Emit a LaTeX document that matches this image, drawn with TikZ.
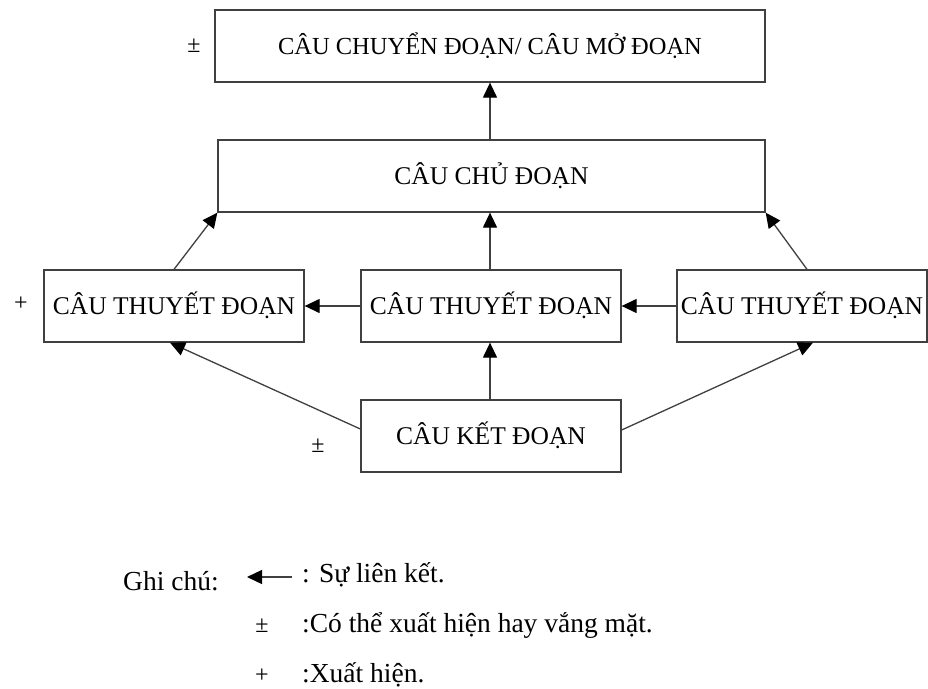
\documentclass[tikz,border=0pt]{standalone}
\usepackage{fontspec}
\setmainfont{Liberation Serif}
\usetikzlibrary{arrows.meta}
\begin{document}
\begin{tikzpicture}[x=1pt,y=-1pt,
  box/.style={draw=black!75, line width=1.3pt, minimum height=72pt, inner sep=0pt,
    text height=17pt, text depth=0pt, font=\fontsize{25.5}{25.5}\selectfont},
  link/.style={draw=black!75, line width=1.3pt, -{Triangle[length=15pt,width=14pt,color=black,fill=black]}},
  sym/.style={inner sep=0pt, font=\fontsize{24}{24}\selectfont},
  legtext/.style={anchor=base west, inner sep=0pt, font=\fontsize{27.5}{27.5}\selectfont}
]
\useasboundingbox (0,0) rectangle (928,688);
\fill[white] (0,0) rectangle (928,688);

% boxes
\node[box, minimum width=550pt, font=\fontsize{24.5}{24.5}\selectfont] (top) at (490,46) {CÂU CHUYỂN ĐOẠN/ CÂU MỞ ĐOẠN};
\node[box, minimum width=547pt] (chu) at (491.5,176) {CÂU CHỦ ĐOẠN};
\node[box, minimum width=260pt] (left) at (174,306) {CÂU THUYẾT ĐOẠN};
\node[box, minimum width=260pt] (mid) at (491,306) {CÂU THUYẾT ĐOẠN};
\node[box, minimum width=250pt] (right) at (802,306) {CÂU THUYẾT ĐOẠN};
\node[box, minimum width=260pt] (ket) at (491,436) {CÂU KẾT ĐOẠN};

% marks
\node[sym] (ptop) at (194,46) {±};
\node[sym] (pleft) at (21,304) {+};
\node[sym] (pket) at (318,446) {±};

% connectors
\draw[link] ([xshift=-1.5pt]chu.north) -- ([xshift=-1.5pt]chu.north |- top.south);
\draw[link] (left.north) -- (chu.south west);
\draw[link] ([xshift=5pt]right.north) -- (chu.south east);
\draw[link] ([xshift=-1pt]mid.north) -- ([xshift=-1pt]mid.north |- chu.south);
\draw[link] (mid.west) -- (left.east);
\draw[link] (right.west) -- (mid.east);
\draw[link] ([xshift=-1pt]ket.north) -- ([xshift=-1pt]mid.south);
\draw[link] ([yshift=7pt]ket.west) -- ([xshift=-4pt]left.south);
\draw[link] ([yshift=6pt]ket.east) -- ([xshift=11pt]right.south);

% legend
\node[legtext] (ghi) at (123,590) {Ghi chú:};
\coordinate (la) at (292,577);
\coordinate (lb) at (247,577);
\draw[link] (la) -- (lb);
\node[legtext] (l1) at (302,582) {: Sự liên kết.};
\node[sym] (s2) at (262,626) {±};
\node[legtext] (l2) at (302,632) {:Có thể xuất hiện hay vắng mặt.};
\node[sym] (s3) at (262,676) {+};
\node[legtext] (l3) at (302,682) {:Xuất hiện.};
\end{tikzpicture}
\end{document}
